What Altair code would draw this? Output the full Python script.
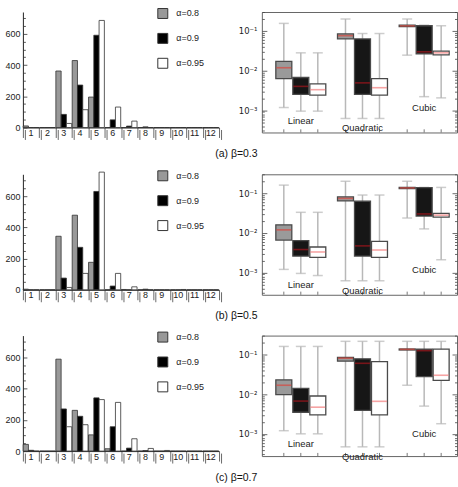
import altair as alt
import pandas as pd

bins = list(range(1, 13))
alphas = ["α=0.8", "α=0.9", "α=0.95"]
groups = ["Linear", "Quadratic", "Cubic"]
captions = ["(a) β=0.3", "(b) β=0.5", "(c) β=0.7"]

# histogram counts, bins 1..12
hist_a_08 = [10, 0, 362, 429, 195, 0, 0, 0, 0, 0, 0, 0]
hist_a_09 = [0, 0, 84, 272, 591, 49, 9, 4, 0, 0, 0, 0]
hist_a_095 = [0, 0, 26, 114, 686, 131, 41, 0, 0, 0, 0, 0]
hist_b_08 = [4, 0, 343, 478, 176, 0, 2, 0, 0, 0, 0, 0]
hist_b_09 = [0, 0, 75, 272, 630, 24, 0, 4, 0, 0, 0, 0]
hist_b_095 = [0, 0, 15, 105, 754, 105, 19, 0, 0, 2, 0, 0]
hist_c_08 = [43, 0, 589, 261, 104, 15, 0, 0, 0, 0, 0, 0]
hist_c_09 = [5, 0, 270, 223, 341, 156, 19, 3, 0, 0, 0, 0]
hist_c_095 = [0, 0, 156, 169, 330, 312, 79, 17, 4, 0, 0, 0]

# box statistics, order: Linear(0.8,0.9,0.95), Quadratic(...), Cubic(...)
box_a_lo = [0.00117, 0.00095, 0.00095, 0.00062, 0.00062, 0.00062, 0.0245, 0.0022, 0.00205]
box_a_q1 = [0.0063, 0.0025, 0.0024, 0.063, 0.0025, 0.0024, 0.128, 0.0265, 0.025]
box_a_med = [0.0118, 0.0040, 0.0033, 0.076, 0.0049, 0.0037, 0.134, 0.0297, 0.028]
box_a_q3 = [0.017, 0.0067, 0.0046, 0.084, 0.063, 0.0063, 0.14, 0.135, 0.031]
box_a_hi = [0.155, 0.028, 0.028, 0.2, 0.086, 0.086, 0.2, 0.14, 0.135]

box_b_lo = [0.0012, 0.00095, 0.00084, 0.00062, 0.00062, 0.00062, 0.0237, 0.0126, 0.0021]
box_b_q1 = [0.0066, 0.0026, 0.0024, 0.064, 0.0026, 0.0024, 0.13, 0.0266, 0.025]
box_b_med = [0.0119, 0.0038, 0.0033, 0.074, 0.0047, 0.0037, 0.136, 0.030, 0.028]
box_b_q3 = [0.016, 0.0064, 0.0044, 0.081, 0.063, 0.0061, 0.141, 0.138, 0.031]
box_b_hi = [0.16, 0.033, 0.033, 0.2, 0.09, 0.09, 0.2, 0.14, 0.14]

box_c_lo = [0.0012, 0.001, 0.001, 0.00047, 0.00047, 0.00047, 0.0168, 0.005, 0.0018]
box_c_q1 = [0.0097, 0.0035, 0.003, 0.068, 0.0039, 0.003, 0.13, 0.0276, 0.0224]
box_c_med = [0.0168, 0.0067, 0.0047, 0.081, 0.06, 0.0066, 0.135, 0.125, 0.03]
box_c_q3 = [0.023, 0.014, 0.009, 0.084, 0.078, 0.066, 0.138, 0.136, 0.136]
box_c_hi = [0.16, 0.16, 0.16, 0.215, 0.215, 0.215, 0.215, 0.215, 0.215]

hist_y_ticks = [0, 50, 100, 150, 200, 250, 300, 350, 400, 450, 500, 550, 600, 650, 700]
log_ticks = [0.0003, 0.0004, 0.0005, 0.0006, 0.0007, 0.0008, 0.0009,
             0.001, 0.002, 0.003, 0.004, 0.005, 0.006, 0.007, 0.008, 0.009,
             0.01, 0.02, 0.03, 0.04, 0.05, 0.06, 0.07, 0.08, 0.09,
             0.1, 0.2, 0.3]

FONT = "Liberation Sans"
HW, HH = 197, 116
BW, BH = 196, 121
HMAX = 740
YMIN, YMAX = 2.75e-4, 0.3


def hist_df(a, b, c):
    rows = []
    for name, vals in zip(alphas, [a, b, c]):
        for k, v in zip(bins, vals):
            rows.append({"k": k, "alpha": name, "n": v})
    return pd.DataFrame(rows)


def box_df(lo, q1, med, q3, hi):
    rows = []
    i = 0
    for g in groups:
        for a in alphas:
            rows.append({"group": g, "alpha": a, "lo": lo[i], "q1": q1[i],
                         "med": med[i], "q3": q3[i], "hi": hi[i]})
            i += 1
    return pd.DataFrame(rows)


def hist_chart(df):
    base = alt.Chart(df)
    xs = alt.Scale(type="band", domain=bins, paddingInner=0, paddingOuter=0)
    xos = alt.Scale(type="band", domain=alphas, paddingInner=0, paddingOuter=0.05)
    ys = alt.Scale(domain=[0, HMAX], nice=False)
    XO = alt.XOffset("alpha:N", scale=xos)
    bars = base.mark_bar(stroke="#333", strokeWidth=0.8).encode(
        x=alt.X("k:O", scale=xs, axis=alt.Axis(
            title=None, orient="bottom", labels=False, ticks=True, tickBand="extent",
            tickSize=10, tickColor="#444", tickWidth=0.8, domain=True,
            domainColor="#222", domainWidth=1)),
        xOffset=XO,
        y=alt.Y("n:Q", scale=ys, axis=alt.Axis(
            title=None, orient="left", values=[0, 200, 400, 600], ticks=False,
            domain=True, domainColor="#222", domainWidth=1, labelPadding=3,
            labelFont=FONT, labelFontSize=9, labelColor="#222")),
        fill=alt.Fill("alpha:N", scale=alt.Scale(domain=alphas, range=["#999999", "#000000", "#ffffff"]),
                      legend=alt.Legend(
                          title=None, orient="none", legendX=135, legendY=-4,
                          direction="vertical", symbolType="square", symbolSize=100,
                          symbolStrokeColor="#333", symbolStrokeWidth=1,
                          labelFont=FONT, labelFontSize=9, labelColor="#222",
                          labelOffset=8, rowPadding=10, padding=0)),
    )
    xlabels = base.mark_point(opacity=0).encode(
        x=alt.X("k:O", scale=xs, axis=alt.Axis(
            title=None, orient="bottom", ticks=False, domain=False, labelPadding=1,
            labelAngle=0, labelFont=FONT, labelFontSize=9, labelColor="#222")),
        xOffset=XO,
        y=alt.Y("n:Q", scale=ys, axis=None))
    xticks2 = base.mark_point(opacity=0).encode(
        x=alt.X("k:O", scale=xs, axis=alt.Axis(
            title=None, orient="bottom", labels=False, domain=False, tickBand="extent",
            tickSize=10, tickColor="#444", tickWidth=0.8, translate=2.5)),
        xOffset=XO,
        y=alt.Y("n:Q", scale=ys, axis=None))
    yticks = base.mark_point(opacity=0).encode(
        x=alt.X("k:O", scale=xs, axis=None),
        xOffset=XO,
        y=alt.Y("n:Q", scale=ys, axis=alt.Axis(
            title=None, orient="right", offset=-HW, labels=False, domain=False,
            values=hist_y_ticks, tickColor="#333", tickWidth=0.8,
            tickSize={"condition": {"test": "datum.value % 200 == 0", "value": 4}, "value": 2.5})))
    return alt.layer(bars, xlabels, xticks2, yticks).resolve_axis(
        x="independent", y="independent").properties(width=HW, height=HH)


def box_chart(df):
    base = alt.Chart(df)
    xs = alt.Scale(type="band", domain=groups, paddingInner=0.19, paddingOuter=0.177, align=0.64)
    xo = alt.Scale(type="band", domain=alphas, paddingInner=0.06, paddingOuter=0)
    ys = alt.Scale(type="log", domain=[YMIN, YMAX], nice=False)
    X = alt.X("group:N", scale=xs, axis=None)
    XO = alt.XOffset("alpha:N", scale=xo)
    tick_size = {"condition": {"test": "abs(log(datum.value)/LN10 - round(log(datum.value)/LN10)) < 0.01",
                               "value": 5}, "value": 2.5}
    whisk = base.mark_rule(color="#b8b8b8", strokeWidth=1.5).encode(
        x=X, xOffset=XO,
        y=alt.Y("lo:Q", scale=ys, axis=alt.Axis(
            title=None, orient="right", offset=-BW, labels=False, domain=False,
            values=log_ticks, tickColor="#444", tickWidth=0.8, tickSize=tick_size)),
        y2="hi:Q")
    caps = base.transform_fold(["lo", "hi"], as_=["which", "v"]).mark_tick(
        color="#b8b8b8", size=10, thickness=1.5).encode(
        x=X, xOffset=XO, y=alt.Y("v:Q", scale=ys, axis=None))
    boxes = base.mark_bar(stroke="#4a4a4a", strokeWidth=1.3).encode(
        x=X, xOffset=XO,
        y=alt.Y("q1:Q", scale=ys, axis=alt.Axis(
            title=None, orient="left", values=[0.001, 0.01, 0.1], ticks=False, domain=False,
            labelPadding=5, labelFont="DejaVu Sans", labelFontSize=8.5, labelColor="#222",
            labelExpr="'10' + (datum.value < 0.005 ? '⁻³' : (datum.value < 0.05 ? '⁻²' : '⁻¹'))")),
        y2="q3:Q",
        fill=alt.Fill("alpha:N", scale=alt.Scale(domain=alphas, range=["#9a9a9a", "#161616", "#ffffff"]),
                      legend=None))
    meds = base.mark_tick(size=15, thickness=1.6).encode(
        x=X, xOffset=XO,
        y=alt.Y("med:Q", scale=ys, axis=alt.Axis(
            title=None, orient="left", offset=-BW, labels=False, domain=False,
            values=log_ticks, tickColor="#444", tickWidth=0.8, tickSize=tick_size)),
        color=alt.Color("alpha:N", scale=alt.Scale(domain=alphas, range=["#d8473f", "#a3161c", "#f27d7d"]),
                        legend=None))
    bticks = base.mark_rule(color="#555", strokeWidth=0.8).encode(
        x=X, xOffset=XO,
        y=alt.Y(datum=YMIN, axis=None),
        y2=alt.Y2(datum=YMIN * 1.2))
    labels = base.transform_aggregate(mn="min(lo)", groupby=["group"]).mark_text(
        dy=10, font=FONT, fontSize=9.5, color="#222").encode(
        x=alt.X("group:N", scale=xs, axis=None),
        y=alt.Y("mn:Q", scale=ys, axis=None),
        text="group:N")
    return alt.layer(whisk, caps, boxes, meds, bticks, labels).resolve_axis(
        y="independent").properties(
        width=BW, height=BH,
        view=alt.ViewBackground(stroke="#666", strokeWidth=1))


hists = [hist_df(hist_a_08, hist_a_09, hist_a_095),
         hist_df(hist_b_08, hist_b_09, hist_b_095),
         hist_df(hist_c_08, hist_c_09, hist_c_095)]
boxes = [box_df(box_a_lo, box_a_q1, box_a_med, box_a_q3, box_a_hi),
         box_df(box_b_lo, box_b_q1, box_b_med, box_b_q3, box_b_hi),
         box_df(box_c_lo, box_c_q1, box_c_med, box_c_q3, box_c_hi)]

rows = []
for h, b, cap in zip(hists, boxes, captions):
    row = alt.hconcat(hist_chart(h), box_chart(b), spacing=17).resolve_scale(
        fill="independent", color="independent", xOffset="independent").resolve_legend(
        fill="independent", color="independent").properties(
        title=alt.TitleParams(text=cap, orient="bottom", anchor="middle", fontSize=10.5,
                              font=FONT, fontWeight="normal", offset=11, dx=5, color="#111"))
    rows.append(row)

chart = alt.vconcat(*rows, spacing=10).resolve_scale(
    fill="independent", color="independent", xOffset="independent").resolve_legend(
    fill="independent", color="independent").properties(
    padding={"left": 4, "top": 7, "right": 0, "bottom": 0},
    background="white").configure_view(stroke=None).configure_axis(grid=False)

chart.save("out.html", embed_options={"renderer": "svg", "actions": False})
